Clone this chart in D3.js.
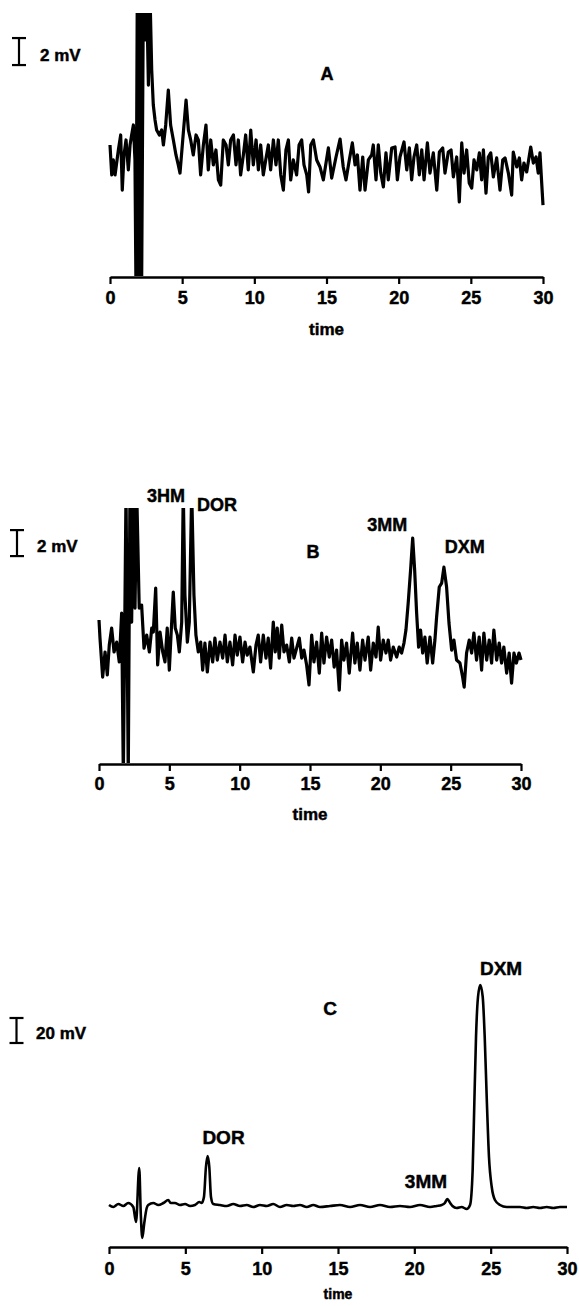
<!DOCTYPE html>
<html>
<head>
<meta charset="utf-8">
<script src="https://cdn.jsdelivr.net/npm/d3@7"></script>
<style>
  body { margin: 0; background: #fff; }
  svg text { font-family: "Liberation Sans", Arial, sans-serif; font-weight: bold; fill: #000; stroke: #000; stroke-width: 0.45px; }
</style>
</head>
<body>
<svg id="chart" width="579" height="1306"></svg>
<script>
// x axis ticks (minutes)
const timeTicks = [0, 5, 10, 15, 20, 25, 30];

// Trace A (blank) : [time, mV]
const traceA = [
  [0.00,9.78],[0.12,7.56],[0.23,8.67],[0.35,7.56],[0.58,9.41],[0.74,10.52],[0.85,6.44],[0.97,9.04],[1.11,10.15],[1.27,7.93],
  [1.39,9.78],[1.50,10.52],[1.62,11.26],[1.73,8.67],[1.80,-1],[1.89,21],[2.03,-1],[2.12,21],[2.19,-1],[2.31,21],
  [2.43,17.56],[2.54,21],[2.66,14.22],[2.77,21],[2.89,15.33],[3.00,12.74],[3.12,11.63],[3.23,10.89],[3.42,10.52],[3.58,10.89],
  [3.70,9.78],[3.86,11.26],[4.04,13.85],[4.20,11.26],[4.39,10.15],[4.57,9.04],[4.73,8.30],[4.85,7.70],[5.04,10.15],[5.27,13.11],
  [5.43,10.89],[5.59,10.15],[5.77,9.04],[5.96,10.52],[6.12,10.15],[6.28,7.56],[6.47,9.78],[6.65,11.26],[6.81,7.93],[6.98,10.15],
  [7.16,8.30],[7.34,9.41],[7.51,7.19],[7.67,6.81],[7.85,10.15],[8.04,9.78],[8.20,8.30],[8.36,10.15],[8.55,10.52],[8.73,8.30],
  [8.89,10.15],[9.05,7.56],[9.24,9.04],[9.40,10.52],[9.58,7.93],[9.75,10.89],[9.93,8.30],[10.12,10.15],[10.28,7.93],[10.44,9.78],
  [10.62,7.56],[10.79,8.67],[10.97,9.78],[11.13,7.93],[11.32,10.15],[11.50,8.30],[11.66,10.15],[11.83,7.56],[12.01,6.44],[12.19,9.41],
  [12.36,10.15],[12.52,7.19],[12.70,8.67],[12.93,7.56],[13.10,9.78],[13.28,10.15],[13.44,8.30],[13.63,7.56],[13.76,6.30],[13.91,9.78],
  [14.09,10.15],[14.32,8.67],[14.55,8.15],[14.78,7.19],[15.13,9.56],[15.36,7.33],[15.66,8.89],[15.94,10.22],[16.16,8.15],[16.35,7.19],
  [16.58,8.67],[16.79,9.93],[16.98,8.30],[17.14,9.04],[17.32,6.44],[17.51,8.89],[17.67,6.44],[17.90,8.67],[18.13,9.04],[18.24,9.78],
  [18.43,7.19],[18.59,9.78],[18.76,7.70],[18.94,6.67],[19.12,9.19],[19.28,7.19],[19.52,9.56],[19.75,9.63],[19.91,7.19],[20.09,8.89],
  [20.37,10.00],[20.56,7.93],[20.74,9.56],[20.90,7.19],[21.06,8.89],[21.25,9.78],[21.43,7.56],[21.60,9.41],[21.76,7.19],[21.99,9.93],
  [22.17,7.70],[22.40,9.19],[22.64,6.44],[22.82,9.26],[23.05,9.56],[23.21,7.70],[23.44,9.26],[23.63,9.41],[23.79,7.41],[24.02,8.89],
  [24.20,5.56],[24.37,9.93],[24.53,7.70],[24.71,9.41],[24.89,6.96],[25.06,6.59],[25.22,8.67],[25.41,7.93],[25.59,9.19],[25.75,7.19],
  [25.87,9.41],[26.05,6.22],[26.21,8.89],[26.38,9.19],[26.56,7.41],[26.79,8.82],[27.02,6.44],[27.21,8.67],[27.37,8.82],[27.60,7.70],
  [27.83,6.07],[27.94,9.26],[28.18,8.15],[28.36,8.82],[28.52,7.19],[28.68,8.44],[28.87,7.78],[29.15,9.63],[29.33,8.44],[29.52,8.89],
  [29.67,7.70],[29.79,9.19],[29.91,6.96],[30.00,5.33]
];

// Trace B (low standard)
const traceB = [
  [0.00,11.08],[0.07,9.69],[0.26,6.69],[0.43,8.62],[0.59,6.85],[0.73,9.15],[0.90,10.46],[1.07,8.62],[1.26,9.38],[1.44,7.85],
  [1.61,11.62],[1.73,-1],[1.92,21],[2.08,-1],[2.20,21],[2.32,10.92],[2.44,21],[2.56,12.00],[2.68,21],[2.86,12.00],
  [3.03,12.23],[3.20,8.92],[3.39,9.92],[3.58,8.62],[3.75,10.46],[3.86,10.15],[4.03,13.54],[4.17,7.62],[4.34,10.15],[4.53,8.62],
  [4.69,7.85],[4.85,10.46],[5.00,7.23],[5.12,9.92],[5.28,13.23],[5.42,10.46],[5.57,9.92],[5.71,8.62],[5.88,10.92],[5.99,21],
  [6.11,13.00],[6.28,9.38],[6.42,10.92],[6.59,21],[6.75,13.00],[6.89,9.92],[7.06,8.62],[7.23,9.38],[7.37,7.23],[7.53,9.31],
  [7.70,7.08],[7.89,9.38],[8.08,7.85],[8.24,9.69],[8.41,8.00],[8.60,9.38],[8.79,8.15],[8.96,9.92],[9.12,7.85],[9.31,9.38],
  [9.50,7.62],[9.67,9.92],[9.83,8.38],[10.02,9.77],[10.21,7.85],[10.38,9.38],[10.54,8.38],[10.73,9.00],[10.97,7.08],[11.16,9.15],
  [11.32,9.92],[11.49,7.85],[11.68,9.92],[11.87,8.15],[12.03,9.69],[12.20,7.38],[12.39,10.92],[12.53,8.62],[12.67,10.46],[12.81,8.15],
  [12.99,10.69],[13.15,8.62],[13.34,9.15],[13.53,7.85],[13.70,9.69],[13.86,8.15],[14.05,8.92],[14.24,9.69],[14.41,8.15],[14.57,8.77],
  [14.76,7.62],[14.93,6.08],[15.12,9.92],[15.28,7.85],[15.47,9.38],[15.66,7.00],[15.83,10.08],[15.99,7.77],[16.18,9.77],[16.37,8.23],
  [16.54,9.54],[16.72,7.46],[16.89,8.77],[17.08,5.69],[17.25,9.54],[17.41,8.00],[17.60,9.31],[17.79,7.00],[18.03,10.08],[18.19,7.77],
  [18.36,9.31],[18.55,7.23],[18.74,9.54],[18.91,8.00],[19.14,9.77],[19.31,7.23],[19.50,9.31],[19.69,8.23],[19.85,10.54],[20.02,8.00],
  [20.21,9.54],[20.40,8.54],[20.56,9.54],[20.73,8.00],[20.92,9.00],[21.16,8.23],[21.34,9.00],[21.51,8.54],[21.68,9.31],[21.82,10.31],
  [21.98,12.38],[22.15,14.92],[22.30,17.38],[22.44,14.92],[22.58,11.62],[22.72,9.00],[22.86,10.31],[23.01,8.54],[23.17,9.77],[23.33,7.77],
  [23.53,9.77],[23.72,7.77],[23.88,9.54],[24.00,11.31],[24.19,13.62],[24.36,13.92],[24.52,15.15],[24.71,13.62],[24.88,10.85],[25.07,8.77],
  [25.23,9.54],[25.42,8.00],[25.66,7.77],[25.85,6.69],[25.96,5.92],[26.13,8.54],[26.32,9.54],[26.49,8.54],[26.65,10.08],[26.84,8.00],
  [27.03,9.77],[27.20,7.23],[27.36,10.08],[27.56,8.00],[27.74,9.54],[27.91,7.77],[28.07,10.31],[28.27,8.00],[28.45,9.31],[28.62,7.77],
  [28.78,9.00],[28.98,7.00],[29.16,8.54],[29.33,6.23],[29.50,8.54],[29.67,7.77],[29.86,8.54],[30.00,8.00]
];

// Trace C (patient sample)
const traceC = [
  [0.00,33.6],[0.28,32.0],[0.61,34.4],[0.94,32.8],[1.26,35.2],[1.59,32.0],[1.77,20.0],[1.98,63.2],[2.08,27.2],[2.18,7.2],
  [2.31,19.2],[2.47,31.2],[2.57,33.6],[2.90,35.2],[3.23,33.6],[3.56,35.2],[3.88,37.6],[4.04,35.2],[4.32,35.2],[4.65,33.6],
  [4.98,34.4],[5.31,32.8],[5.63,33.6],[5.91,36.0],[6.07,35.2],[6.22,40.0],[6.35,64.0],[6.46,72.8],[6.57,64.0],[6.68,40.0],
  [6.83,34.4],[7.27,33.6],[7.71,32.8],[8.14,34.4],[8.58,32.8],[9.02,33.6],[9.45,32.0],[9.89,33.6],[10.33,32.8],[10.76,34.4],
  [11.20,32.0],[11.64,33.6],[12.07,32.8],[12.51,33.6],[12.95,32.0],[13.38,33.6],[13.82,32.0],[14.48,32.8],[15.13,33.6],[15.79,32.0],
  [16.44,33.6],[17.10,32.0],[17.75,33.6],[18.41,32.0],[19.06,32.8],[19.72,32.0],[20.37,33.6],[21.03,32.0],[21.46,32.8],[21.79,33.6],
  [22.00,35.2],[22.16,38.4],[22.35,35.2],[22.50,32.8],[22.77,31.2],[23.10,32.0],[23.43,30.4],[23.65,33.6],[23.82,61.6],[23.93,115.2],
  [24.04,168.0],[24.17,200.0],[24.32,209.6],[24.48,200.0],[24.61,168.0],[24.74,120.0],[24.89,72.0],[25.07,48.0],[25.28,37.6],[25.61,33.6],
  [26.05,32.0],[26.48,32.0],[26.92,32.0],[27.36,31.2],[27.79,32.0],[28.23,31.2],[28.67,32.0],[29.10,31.2],[29.54,32.0],[30.00,32.0]
];

// Peak / panel labels : [text, time, mV]
const labelsA = [["A", 15.04, 14.59]];
const labelsB = [["3HM", 4.76, 20.15], ["DOR", 8.39, 19.46], ["3MM", 20.5, 17.92], ["DXM", 26.01, 16.23], ["B", 15.21, 15.85]];
const labelsC = [["DOR", 7.5, 82.4], ["3MM", 20.76, 47.2], ["DXM", 25.68, 217.6], ["C", 14.48, 185.6]];

const panels = [
  { name: "A", trace: traceA, labels: labelsA, unit: "2 mV", step: 2, barFrom: 15.7,
    xRange: [110, 543], axisY: 277, yDomain: [0, 19.6], yTop: 12.4, clip: [13, 276],
    curve: d3.curveLinear, lw: 3.2, pad: 7, timeY: 335, timeSize: 17, barX: 19, unitX: 40, labelSize: 18 },
  { name: "B", trace: traceB, labels: labelsB, unit: "2 mV", step: 2, barFrom: 16.0,
    xRange: [99, 521], axisY: 764, yDomain: [0, 19.7], yTop: 508, clip: [508, 763],
    curve: d3.curveLinear, lw: 3.2, pad: 6, timeY: 820, timeSize: 17, barX: 17, unitX: 37, labelSize: 18 },
  { name: "C", trace: traceC, labels: labelsC, unit: "20 mV", step: 20, barFrom: 163.2,
    xRange: [109, 567], axisY: 1247, yDomain: [0, 230], yTop: 959.5, clip: [950, 1246],
    curve: d3.curveMonotoneX, lw: 2.6, pad: 8, timeY: 1299, timeSize: 14, barX: 16.5, unitX: 36, labelSize: 19 }
];

const svg = d3.select("#chart");

panels.forEach((p) => {
  const x = d3.scaleLinear().domain([0, 30]).range(p.xRange);
  const y = d3.scaleLinear().domain(p.yDomain).range([p.axisY, p.yTop]);

  const g = svg.append("g").classed("panel-" + p.name, true);

  // clip so off-scale spikes are cut at the frame
  g.append("clipPath").attr("id", "clip" + p.name)
    .append("rect")
    .attr("x", p.xRange[0] - 5).attr("width", p.xRange[1] - p.xRange[0] + 10)
    .attr("y", p.clip[0]).attr("height", p.clip[1] - p.clip[0]);

  const line = d3.line()
    .x((d) => x(d[0]))
    .y((d) => y(d[1]))
    .curve(p.curve);

  g.append("path")
    .datum(p.trace)
    .attr("clip-path", `url(#clip${p.name})`)
    .attr("d", line)
    .attr("fill", "none")
    .attr("stroke", "#000")
    .attr("stroke-width", p.lw)
    .attr("stroke-linejoin", "round");

  // x axis
  const axis = d3.axisBottom(x).tickValues(timeTicks).tickSize(7).tickSizeOuter(0).tickPadding(p.pad);
  const ax = g.append("g")
    .attr("transform", `translate(0,${p.axisY})`)
    .call(axis);
  ax.select(".domain").attr("stroke", "#000").attr("stroke-width", 2.4);
  ax.selectAll(".tick line").attr("stroke", "#000").attr("stroke-width", 2.2);
  ax.selectAll(".tick text")
    .style("font-size", "18px")
    .style("font-family", '"Liberation Sans", Arial, sans-serif')
    .style("font-weight", "bold")
    .attr("fill", "#000");

  g.append("text")
    .attr("x", x(15))
    .attr("y", p.timeY)
    .attr("text-anchor", "middle")
    .style("font-size", p.timeSize + "px")
    .text("time");

  // scale bar
  const y0 = y(p.barFrom), y1 = y(p.barFrom + p.step);
  const bar = g.append("g").attr("stroke", "#000").attr("stroke-width", 2.2);
  bar.append("line").attr("x1", p.barX).attr("x2", p.barX).attr("y1", y0).attr("y2", y1);
  bar.append("line").attr("x1", p.barX - 7).attr("x2", p.barX + 7).attr("y1", y0).attr("y2", y0);
  bar.append("line").attr("x1", p.barX - 7).attr("x2", p.barX + 7).attr("y1", y1).attr("y2", y1);
  g.append("text")
    .attr("x", p.unitX)
    .attr("y", y0 - 4)
    .style("font-size", "17px")
    .text(p.unit);

  // labels
  g.selectAll(".lbl")
    .data(p.labels)
    .join("text")
    .classed("lbl", true)
    .attr("x", (d) => x(d[1]))
    .attr("y", (d) => y(d[2]))
    .attr("text-anchor", "middle")
    .style("font-size", p.labelSize + "px")
    .text((d) => d[0]);
});
</script>
</body>
</html>
